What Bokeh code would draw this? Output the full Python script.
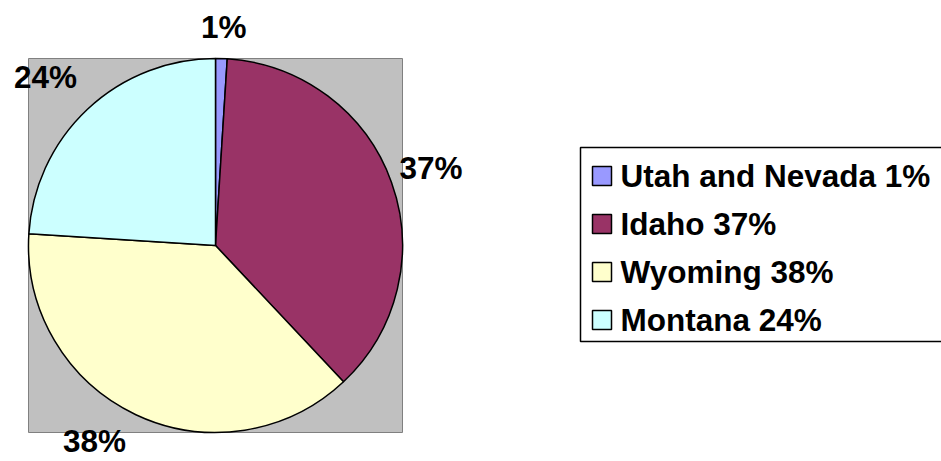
import math
from bokeh.plotting import figure
from bokeh.models import Range1d, ColumnDataSource
from bokeh.core.properties import value
from bokeh.embed import file_html
from bokeh.resources import INLINE

# ---- data ----
states = ["Utah and Nevada", "Idaho", "Wyoming", "Montana"]
shares = [1, 37, 38, 24]
colors = ["#9999FF", "#993366", "#FFFFCC", "#CCFFFF"]

# ---- layout (screen px, data units == px) ----
W, H = 941, 461
cx, cy, R = 215, 216, 187
label_r = 228
label_nudge = [(1, -9), (1, 0), (-24, 11), (-14, 2)]   # small layout tweaks (px)
FONT = value("Liberation Sans")
FS = "31.5px"

p = figure(width=W, height=H, output_backend="svg", toolbar_location=None,
           x_range=Range1d(0, W), y_range=Range1d(0, H),
           x_axis_location=None, y_axis_location=None, min_border=0)
p.grid.visible = False
p.outline_line_color = None
p.background_fill_color = "white"
p.border_fill_color = "white"

# plot area (gray square around the pie)
p.quad(left=[cx - R], right=[cx + R], bottom=[cy - R], top=[cy + R],
       fill_color="#C0C0C0", line_color="#808080", line_width=1)

# wedges, starting at 12 o'clock and going clockwise
total = float(sum(shares))
starts, ends, mids = [], [], []
acc = 0.0
for s in shares:
    a0 = math.pi / 2 - 2 * math.pi * acc / total
    acc += s
    a1 = math.pi / 2 - 2 * math.pi * acc / total
    starts.append(a0)
    ends.append(a1)
    mids.append((a0 + a1) / 2)

src = ColumnDataSource(dict(state=states, share=shares, color=colors,
                            start=starts, end=ends))
p.wedge(x=cx, y=cy, radius=R, start_angle="start", end_angle="end",
        direction="clock", fill_color="color", line_color="black",
        line_width=1.5, source=src)

# percentage labels outside the pie
lx, ly, lt = [], [], []
for m, s, (dx, dy) in zip(mids, shares, label_nudge):
    lx.append(cx + label_r * math.cos(m) + dx)
    ly.append(cy + label_r * math.sin(m) + dy)
    lt.append(f"{s}%")
p.text(x=lx, y=ly, text=lt, text_font=FONT, text_font_style="bold",
       text_font_size=FS, text_color="black",
       text_align="center", text_baseline="middle")

# legend (drawn from the same arrays)
leg_left, leg_top, row_h = 580, 314, 48
n = len(states)
leg_bottom = leg_top - row_h * n - 2
p.quad(left=[leg_left], right=[W + 20], bottom=[leg_bottom], top=[leg_top],
       fill_color="white", line_color="black", line_width=1.5)
row_y = [leg_top - 28.5 - row_h * i for i in range(n)]
p.rect(x=[leg_left + 21.5] * n, y=row_y, width=19, height=19,
       fill_color=colors, line_color="black", line_width=1.5)
p.text(x=[leg_left + 40] * n, y=row_y,
       text=[f"{st} {s}%" for st, s in zip(states, shares)],
       text_font=FONT, text_font_style="bold", text_font_size=FS,
       text_color="black", text_align="left", text_baseline="middle")

open("out.html", "w").write(file_html(p, INLINE))
